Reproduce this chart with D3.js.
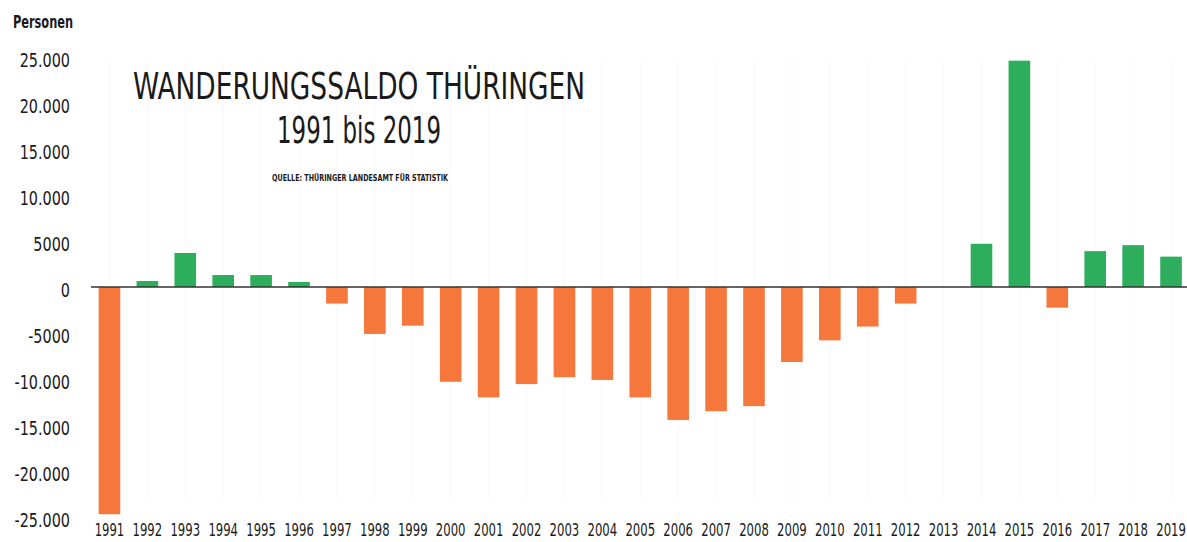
<!DOCTYPE html>
<html>
<head>
<meta charset="utf-8">
<script src="https://cdn.jsdelivr.net/npm/d3@7/dist/d3.min.js"></script>
<style>
  html, body { margin: 0; padding: 0; background: #ffffff; }
  svg { display: block; }
  text { font-family: "Liberation Sans Narrow", "DejaVu Sans Condensed", "Roboto Condensed", sans-serif; fill: #1a1a1a; }
</style>
</head>
<body>
<svg id="chart" width="1187" height="542"></svg>
<script>
const years = ["1991","1992","1993","1994","1995","1996","1997","1998","1999","2000",
  "2001","2002","2003","2004","2005","2006","2007","2008","2009","2010",
  "2011","2012","2013","2014","2015","2016","2017","2018","2019"];
const saldo = [-24700, 650, 3700, 1300, 1300, 550, -1800, -5100, -4200, -10300,
  -12000, -10550, -9800, -10100, -12000, -14450, -13500, -12950, -8150, -5800,
  -4300, -1800, 0, 4700, 24600, -2250, 3900, 4550, 3300];
const yTicks = [25000, 20000, 15000, 10000, 5000, 0, -5000, -10000, -15000, -20000, -25000];
const yTickLabels = ["25.000","20.000","15.000","10.000","5000","0","-5000","-10.000","-15.000","-20.000","-25.000"];
const titleLine1 = "WANDERUNGSSALDO THÜRINGEN";
const titleLine2 = "1991 bis 2019";
const sourceText = "QUELLE: THÜRINGER LANDESAMT FÜR STATISTIK";
const yUnit = "Personen";

const svg = d3.select("#chart");
const W = 1187, H = 542;
const FONT = "'Liberation Sans Narrow', 'DejaVu Sans Condensed', sans-serif";

const x = d3.scaleBand().domain(years).range([90.5, 1190]).paddingInner(0.43).paddingOuter(0.215);
const y = d3.scaleLinear().domain([-25000, 25000]).range([517, 57]);

// faint vertical grid
svg.append("g").selectAll("line").data(years).join("line")
  .attr("x1", d => x(d) + x.bandwidth()/2).attr("x2", d => x(d) + x.bandwidth()/2)
  .attr("y1", 60).attr("y2", 500)
  .attr("stroke", "#f8f8f8").attr("stroke-width", 1);

// bars
svg.append("g").selectAll("rect").data(years).join("rect")
  .attr("x", d => x(d))
  .attr("width", x.bandwidth())
  .attr("y", (d, i) => saldo[i] >= 0 ? y(saldo[i]) : y(0))
  .attr("height", (d, i) => Math.abs(y(saldo[i]) - y(0)))
  .attr("fill", (d, i) => saldo[i] >= 0 ? "#2dae5c" : "#f5773b");

// zero line
svg.append("line")
  .attr("x1", 91).attr("x2", W).attr("y1", y(0)).attr("y2", y(0))
  .attr("stroke", "#333").attr("stroke-width", 1.5);

// y axis (labels only)
const yAxis = d3.axisLeft(y).tickValues(yTicks).tickSize(0)
  .tickFormat((d, i) => yTickLabels[i]);
const yg = svg.append("g").attr("transform", "translate(70,3)").call(yAxis);
yg.select(".domain").remove();
yg.selectAll("text")
  .style("font-family", FONT)
  .style("font-size", "20px").attr("fill", "#1a1a1a").attr("x", 0)
  .attr("transform", "scale(0.8,1)");

// x axis (labels only)
const xAxis = d3.axisBottom(x).tickSize(0);
const xg = svg.append("g").attr("transform", "translate(0,520)").call(xAxis);
xg.select(".domain").remove();
xg.selectAll("text")
  .style("font-family", FONT)
  .style("font-size", "18px").attr("fill", "#1a1a1a").attr("dy", "0.71em").attr("y", 3)
  .attr("transform", "scale(0.72,1)");

// unit label
svg.append("text").attr("x", 13).attr("y", 28)
  .style("font-size", "17px").style("font-weight", "bold").text(yUnit)
  .attr("textLength", 60).attr("lengthAdjust", "spacingAndGlyphs");

// title
svg.append("text").attr("x", 359).attr("y", 99).attr("text-anchor", "middle")
  .style("font-size", "38px").text(titleLine1)
  .attr("textLength", 452).attr("lengthAdjust", "spacingAndGlyphs");
svg.append("text").attr("x", 359).attr("y", 143).attr("text-anchor", "middle")
  .style("font-size", "38px").text(titleLine2)
  .attr("textLength", 164).attr("lengthAdjust", "spacingAndGlyphs");
svg.append("text").attr("x", 360).attr("y", 181).attr("text-anchor", "middle")
  .style("font-size", "8px").style("font-weight", "bold").text(sourceText)
  .attr("textLength", 176).attr("lengthAdjust", "spacingAndGlyphs");
</script>
</body>
</html>
